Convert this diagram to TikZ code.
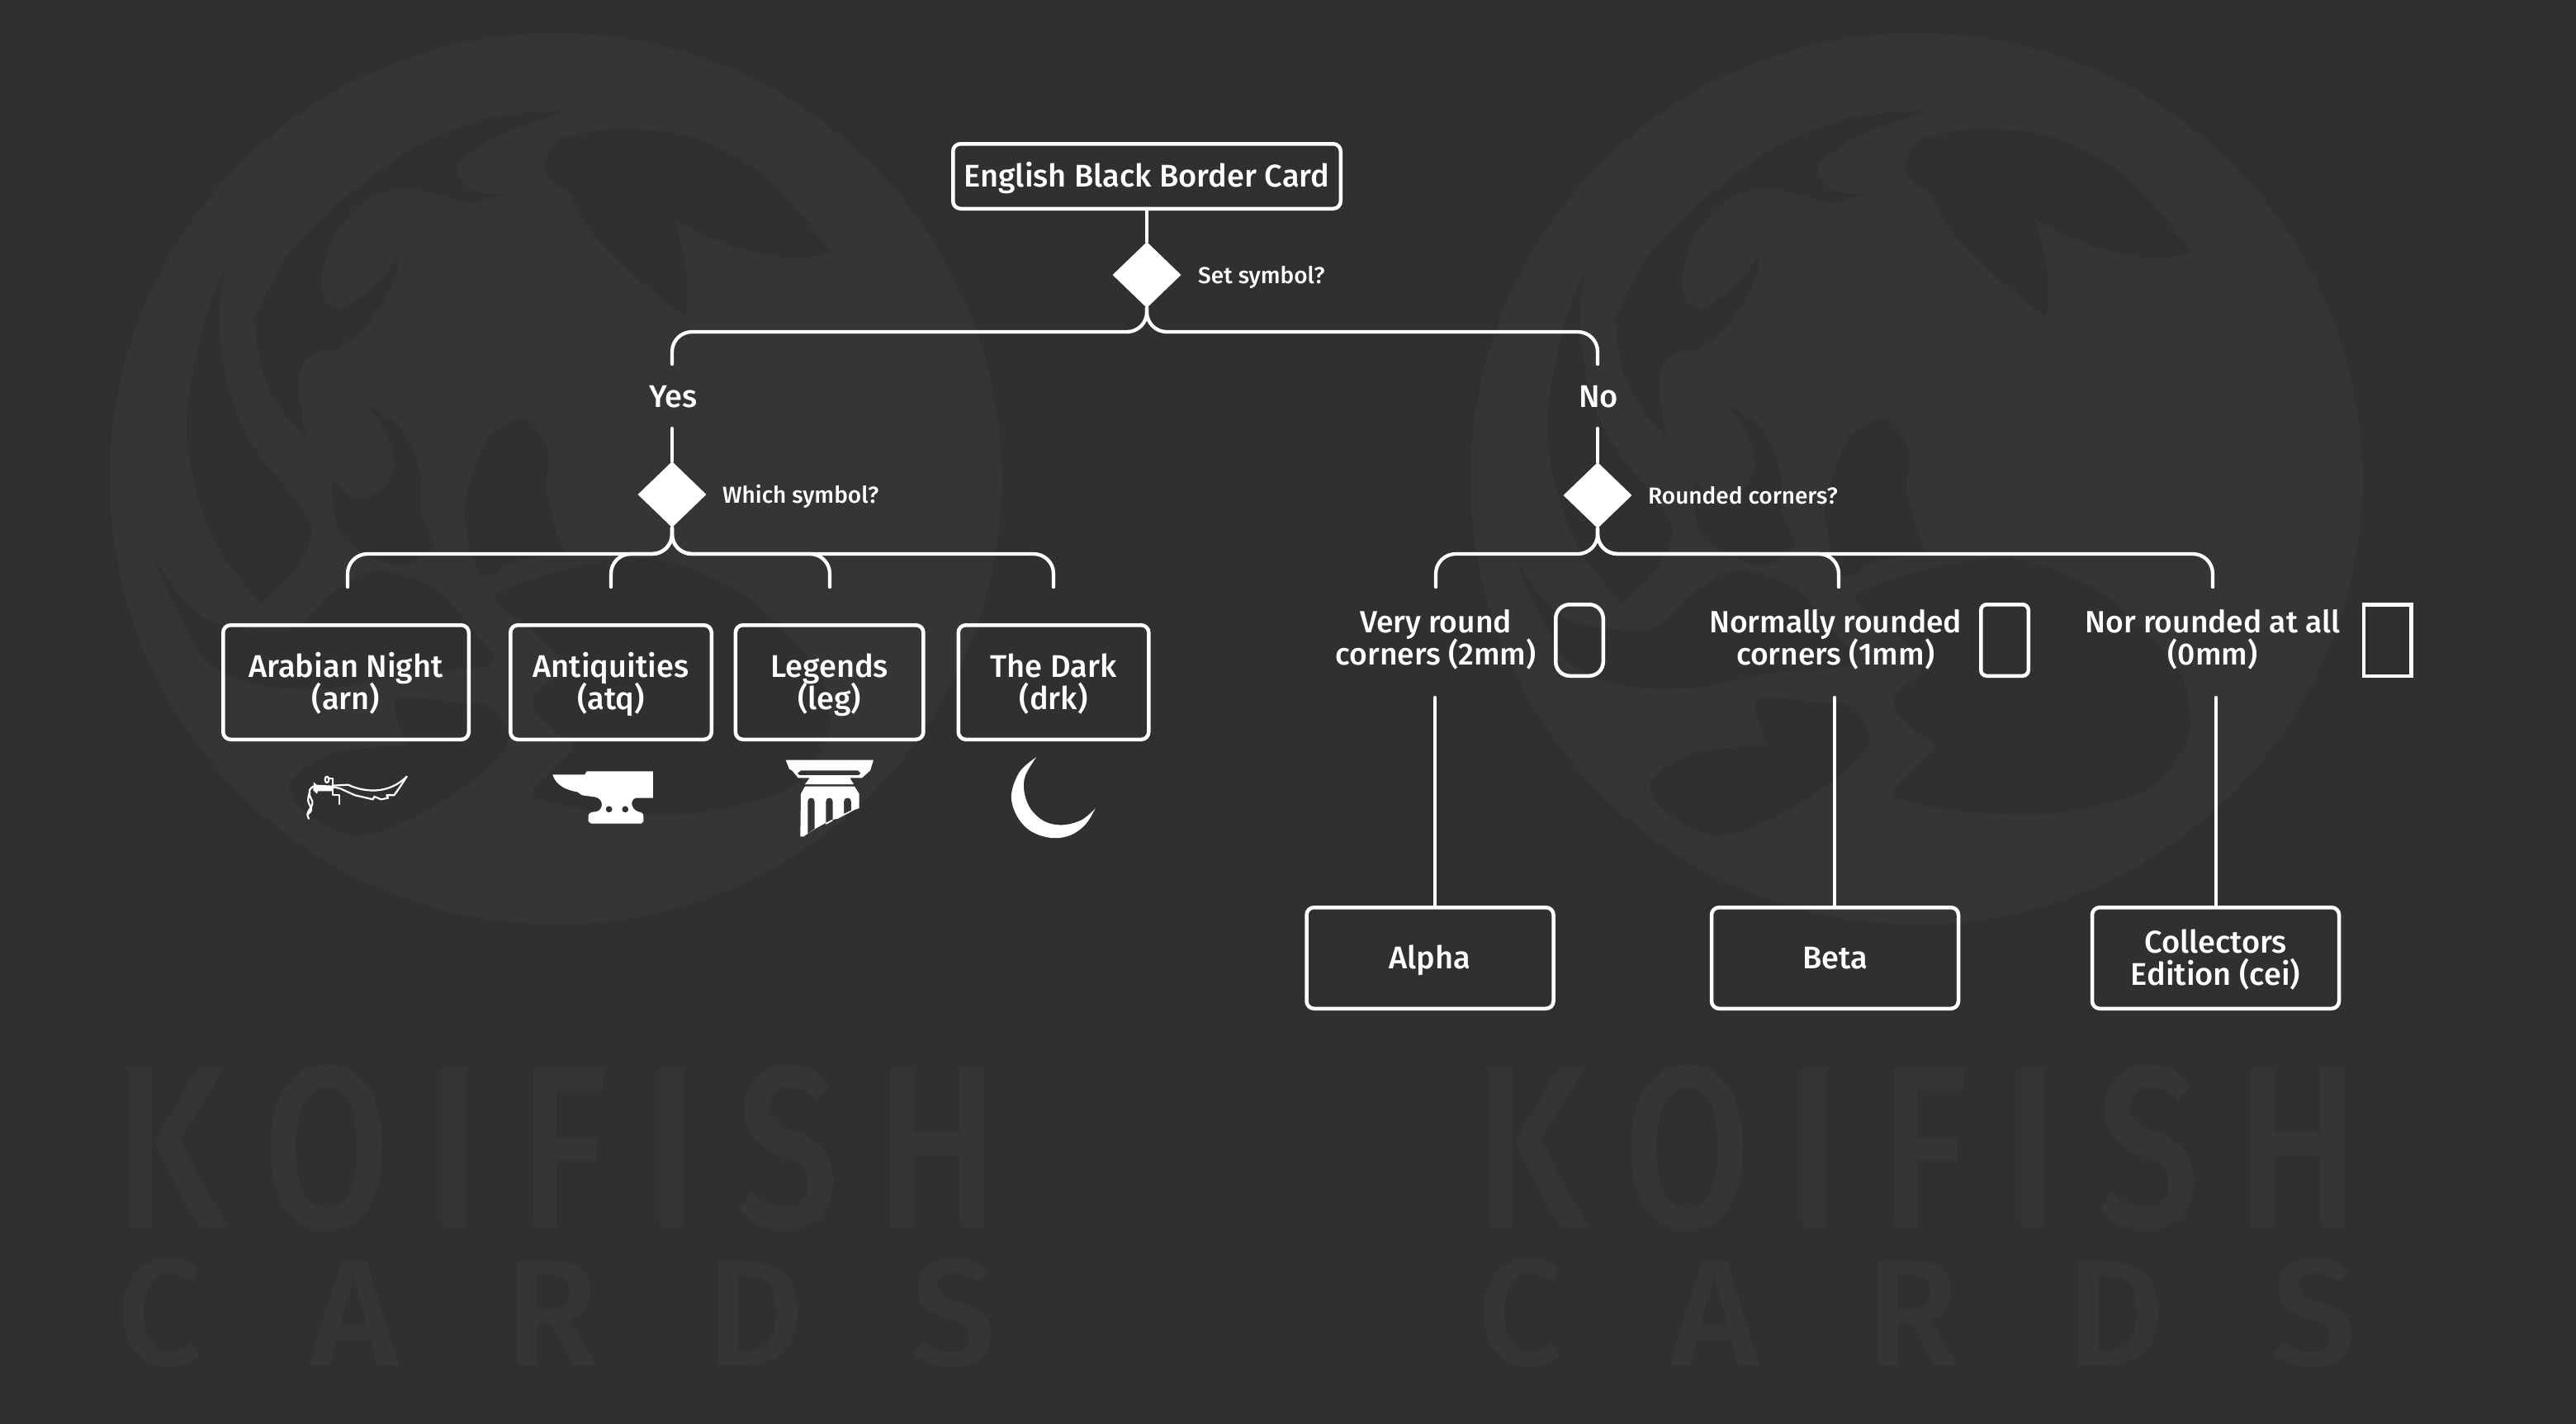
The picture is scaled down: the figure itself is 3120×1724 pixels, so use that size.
\documentclass[tikz,border=0pt]{standalone}
\usepackage{fontspec}
\setmainfont{Fira Sans}[UprightFont=* Medium]
\usetikzlibrary{shapes.geometric}
\definecolor{bgc}{HTML}{303030}
\definecolor{wmc}{HTML}{353535}
\newcommand{\txa}[1]{\raisebox{-5.5pt}[\height][\depth]{\begin{tabular}{@{}c@{}}\smash{#1}\end{tabular}}}
\newcommand{\txb}[2]{\raisebox{-5.5pt}[\height][\depth]{\begin{tabular}{@{}c@{}}\smash{#1}\\\smash{#2}\end{tabular}}}
\newcommand{\koimark}[1]{%
\begin{scope}[xshift=#1]
\fill[wmc] (673,580) circle (540);
\fill[bgc] plot[smooth,tension=.55] coordinates {(688,135)(600,142)(500,180)(400,255)(345,315)(308,387)}
  -- plot[smooth,tension=.55] coordinates {(308,387)(318,450)(340,495)(370,526)}
  -- plot[smooth,tension=.55] coordinates {(370,526)(361,469)(368,440)(384,426)(410,422)(445,392)(473,350)(484,309)}
  -- plot[smooth,tension=.55] coordinates {(484,309)(450,350)(413,373)(395,365)(390,334)(405,285)(440,245)(484,228)(530,235)(570,246)(609,234)}
  -- plot[smooth,tension=.55] coordinates {(609,234)(575,232)(556,215)(556,198)(590,172)(640,150)(688,135)} -- cycle;
\fill[bgc] plot[smooth,tension=.55] coordinates {(677,169)(725,158)(777,157)(850,170)(920,209)(970,260)(1007,307)}
  -- plot[smooth,tension=.55] coordinates {(1007,307)(956,312)(885,298)(815,264)}
  -- plot[smooth,tension=.55] coordinates {(815,264)(828,305)(832,344)(831,385)}
  -- plot[smooth,tension=.55] coordinates {(831,385)(775,340)(716,280)(691,237)(670,221)(659,198)(677,169)} -- cycle;
\fill[bgc] plot[smooth,tension=.55] coordinates {(272,323)(245,400)(227,500)(234,580)(265,665)(316,731)}
  -- plot[smooth,tension=.55] coordinates {(316,731)(355,695)(377,648)(365,615)(345,590)(300,530)(274,459)(266,387)(272,323)} -- cycle;
\fill[bgc] plot[smooth,tension=.55] coordinates {(445,489)(470,530)(477,566)(465,590)(441,603)(420,598)(404,580)}
  -- plot[smooth,tension=.55] coordinates {(404,580)(403,610)(415,650)(450,675)(490,685)(520,666)(525,657)(511,623)(507,566)(485,520)(445,489)} -- cycle;
\fill[bgc] plot[smooth,tension=.55] coordinates {(184,671)(225,730)(270,757)(355,760)(406,716)(460,691)(530,716)(585,780)(598,794)(584,808)(495,816)(405,833)(316,830)(245,794)(184,671)};
\fill[bgc] plot[smooth,tension=.55] coordinates {(493,903)(405,912)(352,948)(370,984)(434,1012)(513,984)(610,912)(600,860)(545,850)(480,848)(493,903)};
\fill[bgc] plot[smooth cycle,tension=.55] coordinates {(634,508)(662,541)(663,600)(680,662)(682,668)(625,680)(582,696)(563,616)(590,534)};
\fill[bgc] plot[smooth cycle,tension=.55] coordinates {(599,723)(680,691)(777,676)(849,694)(920,734)(991,812)(1004,866)(999,901)(956,955)(849,984)(741,984)(670,973)(645,959)(680,923)(695,901)(670,884)(645,848)(680,809)(649,766)};
\node[wmk,font=\fontsize{280}{280}\selectfont] at (674.5,1391) {\scalebox{.8}[1]{\makebox[1342pt][s]{K\hfill O\hfill I\hfill F\hfill I\hfill S\hfill H}}};
\node[wmk,font=\fontsize{184}{184}\selectfont] at (674,1591) {\makebox[1066pt][s]{C\hfill A\hfill R\hfill D\hfill S}};
\end{scope}}
\tikzset{
  box/.style={draw=white,line width=4.5pt,rounded corners=9pt,inner sep=0pt,text=white,
    font=\fontsize{38}{39}\selectfont},
  lab/.style={inner sep=0pt,text=white,font=\fontsize{38}{39}\selectfont},
  labr/.style={inner sep=0pt,text=white,font=\fontsize{37.2}{39}\selectfont},
  small/.style={inner sep=0pt,text=white,anchor=west,text height=20pt,text depth=8pt,font=\fontsize{28}{28}\selectfont},
  dia/.style={diamond,fill=white,inner sep=0pt,minimum width=83pt,minimum height=80pt},
  conn/.style={draw=white,line width=4.3pt,line cap=round,rounded corners=24pt},
  wmk/.style={inner sep=0pt,text=wmc},
  icon/.style={fill=white},
  swline/.style={draw=white,line width=2.2pt,line cap=round,line join=round},
}
\begin{document}
\begin{tikzpicture}[x=1pt,y=-1pt]
\useasboundingbox (0,0) rectangle (3120,1724);
\fill[bgc] (-6,-6) rectangle (3126,1730);
\koimark{0pt}
\koimark{1648pt}
% nodes
\node[box,minimum width=469.5pt,minimum height=78.5pt] (top) at (1389,213.5) {\txa{English Black Border Card}};
\node[dia] (d1) at (1389,333) {};
\node[small] (q1) at (1451,337) {Set symbol?};
\node[lab] (yes) at (815.5,480.3) {\txa{Yes}};
\node[lab] (no) at (1936,480.3) {\txa{No}};
\node[dia] (d2) at (814,599) {};
\node[small] (q2) at (875,603) {Which symbol?};
\node[dia] (d3) at (1935,600) {};
\node[small] (q3) at (1996,604.5) {Rounded corners?};
\node[box,minimum width=297.5pt,minimum height=138.5pt] (arn) at (419,826.5) {\txb{Arabian Night}{(arn)}};
\node[box,minimum width=243.5pt,minimum height=138.5pt] (atq) at (740,826.5) {\txb{Antiquities}{(atq)}};
\node[box,minimum width=227.5pt,minimum height=138.5pt] (leg) at (1004.6,826.5) {\txb{Legends}{(leg)}};
\node[box,minimum width=230.5pt,minimum height=138.5pt] (drk) at (1276,826.5) {\txb{The Dark}{(drk)}};
\node[labr] (very) at (1739,772.2) {\txb{Very round}{corners (2mm)}};
\node[labr] (norm) at (2223,772.2) {\txb{Normally rounded}{corners (1mm)}};
\node[labr] (nor) at (2680,772.2) {\txb{Nor rounded at all}{(0mm)}};
\node[box,minimum width=57.5pt,minimum height=86.5pt,rounded corners=17pt] (r1) at (1913,775.5) {};
\node[box,minimum width=57.5pt,minimum height=86.5pt,rounded corners=7pt] (r2) at (2428,775.5) {};
\node[box,minimum width=57.5pt,minimum height=86.5pt,rounded corners=0pt] (r3) at (2891.5,775.5) {};
\node[box,minimum width=299pt,minimum height=122.5pt] (alpha) at (1732,1160.5) {\txa{Alpha}};
\node[box,minimum width=299pt,minimum height=122.5pt] (beta) at (2222.5,1160.5) {\txa{Beta}};
\node[box,minimum width=299pt,minimum height=122.5pt] (cei) at (2683.5,1160.5) {\txb{Collectors}{Edition (cei)}};
% free ends
\coordinate (bus1) at (0,402);
\coordinate (bus2) at (0,671);
\coordinate (ya) at (814,441);
\coordinate (yb) at (814,519);
\coordinate (na) at (1935,441);
\coordinate (nb) at (1935,519);
\coordinate (ea) at (421,711);
\coordinate (eb) at (740,711);
\coordinate (ec) at (1005,711);
\coordinate (ed) at (1276,711);
\coordinate (fa) at (1739,711);
\coordinate (fb) at (2227,711);
\coordinate (fc) at (2680,711);
\coordinate (ga) at (1738,845);
\coordinate (gb) at (2222,845);
\coordinate (gc) at (2684,845);
% connectors
\draw[conn] (top.south) -- (d1.north);
\draw[conn] (d1.south) -- (d1.south |- bus1) -- (ya |- bus1) -- (ya);
\draw[conn] (d1.south) -- (d1.south |- bus1) -- (na |- bus1) -- (na);
\draw[conn] (yb) -- (d2.north);
\draw[conn] (nb) -- (d3.north);
\foreach \e in {ea,eb,ec,ed}
  \draw[conn] (d2.south) -- (d2.south |- bus2) -- (\e |- bus2) -- (\e);
\foreach \e in {fa,fb,fc}
  \draw[conn] (d3.south) -- (d3.south |- bus2) -- (\e |- bus2) -- (\e);
\draw[conn] (ga) -- (ga |- alpha.north);
\draw[conn] (gb) -- (gb |- beta.north);
\draw[conn] (gc) -- (gc |- cei.north);
% sword
\begin{scope}[shift={(340,900)},x=.3333pt,y=-.3333pt]
\fill[icon] (120,142) -- (130,152) -- (190,155) -- (190,175) -- (135,175) -- (132,185) -- (118,172) -- cycle;
\draw[swline] (190,155) -- (245,152) .. controls (300,178) and (390,190) .. (458,122);
\draw[swline] (190,160) -- (215,165) -- (270,190) -- (335,205) -- (340,195) -- (365,205) -- (390,200) -- (385,190) -- (412,190) -- (430,165) -- (458,122);
\draw[swline] (176,128) -- (190,128) -- (190,190) -- (212,190) -- (212,222);
\draw[swline] (168,133) ellipse (7 and 11);
\draw[swline] (118,158) .. controls (90,175) and (110,200) .. (115,212) .. controls (120,235) and (85,250) .. (102,275);
\draw[swline] (106,180) .. controls (95,205) and (100,215) .. (105,225) .. controls (118,240) and (110,250) .. (100,258);
\end{scope}
% anvil
\begin{scope}[shift={(340,900)},x=.3333pt,y=-.3333pt]
\fill[icon,even odd rule] (988,115) -- (1105,115) -- (1112,103) -- (1353,103) -- (1353,200) -- (1290,200)
  .. controls (1270,205) and (1270,240) .. (1300,250) .. controls (1315,252) and (1318,258) .. (1318,268)
  -- (1318,285) -- (1310,293) -- (1128,293) -- (1118,285) -- (1118,265) .. controls (1118,252) and (1135,250) .. (1145,250)
  .. controls (1175,245) and (1175,200) .. (1140,196) -- (1095,190) -- (1078,178)
  .. controls (1040,172) and (1000,155) .. (988,115) -- cycle
  (1193,241) circle (12) (1252,241) circle (12);
\end{scope}
% column
\begin{scope}[shift={(920,900)},x=.3333pt,y=-.3333pt]
\fill[icon,even odd rule] (95,62) -- (414,62) -- (402,100) -- (372,127) -- (328,127) -- (342,150) -- (165,150) -- (182,127) -- (140,127) -- (118,100) -- (108,95) -- cycle
  (150,100) -- (358,100) -- (368,110) -- (360,117) -- (145,117) -- (137,110) -- cycle;
\fill[icon,even odd rule] (165,158) -- (345,158) -- (362,185) -- (362,237) -- (345,243) -- (285,275) -- (260,280) -- (205,310) -- (160,340) -- (148,340) -- (150,185) -- cycle
  (175,212) .. controls (175,195) and (200,195) .. (200,212) -- (200,312) -- (175,330) -- cycle
  (241,212) .. controls (241,195) and (266,195) .. (266,212) -- (266,283) -- (241,297) -- cycle
  (306,212) .. controls (306,195) and (333,195) .. (333,212) -- (333,245) -- (306,258) -- cycle;
\end{scope}
% moon
\begin{scope}[shift={(920,900)},x=.3333pt,y=-.3333pt]
\fill[icon] plot[smooth,tension=.6] coordinates {(1005,52)(945,105)(915,190)(935,265)(985,320)(1060,345)(1130,335)(1185,295)(1220,238)}
  -- plot[smooth,tension=.6] coordinates {(1220,238)(1170,280)(1100,298)(1035,285)(985,240)(962,180)(965,120)(1005,52)} -- cycle;
\end{scope}
\end{tikzpicture}
\end{document}
